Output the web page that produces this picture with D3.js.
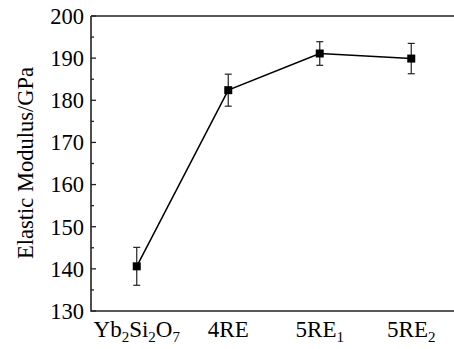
<!DOCTYPE html>
<html><head><meta charset="utf-8">
<script src="https://cdn.jsdelivr.net/npm/d3@7"></script>
<style>body{margin:0;background:#fff}svg{display:block}</style>
</head><body>
<script>
const categories = ["Yb2Si2O7", "4RE", "5RE1", "5RE2"];
const labelParts = [
  [["Yb",""],["2","sub"],["Si",""],["2","sub"],["O",""],["7","sub"]],
  [["4RE",""]],
  [["5RE",""],["1","sub"]],
  [["5RE",""],["2","sub"]]
];
const modulus = [140.6, 182.4, 191.1, 189.9];
const errors = [4.5, 3.8, 2.8, 3.6];
const yTicks = [130, 140, 150, 160, 170, 180, 190, 200];
const yTitle = "Elastic Modulus/GPa";

const W = 454, H = 349;
const m = {left: 91, top: 16, right: 457, bottom: 311};
const svg = d3.select("body").append("svg").attr("width", W).attr("height", H);
const font = "'Liberation Serif', 'Times New Roman', serif";

const x = d3.scalePoint().domain(categories).range([m.left, m.right]).padding(0.5);
const y = d3.scaleLinear().domain([130, 200]).range([m.bottom, m.top]);

// frame
svg.append("path")
  .attr("d", `M${m.left},${m.top}H${m.right+2}M${m.left},${m.top}V${m.bottom}H${m.right+2}`)
  .attr("fill", "none").attr("stroke", "#222").attr("stroke-width", 1.6);

// y axis ticks (inward) with minor ticks
const minor = d3.range(135, 200, 10);
svg.append("g").selectAll("line.maj").data(yTicks).join("line")
  .attr("x1", m.left).attr("x2", m.left + 5)
  .attr("y1", d => y(d)).attr("y2", d => y(d))
  .attr("stroke", "#222").attr("stroke-width", 1.3);
svg.append("g").selectAll("line.min").data(minor).join("line")
  .attr("x1", m.left).attr("x2", m.left + 3)
  .attr("y1", d => y(d)).attr("y2", d => y(d))
  .attr("stroke", "#222").attr("stroke-width", 1.3);
svg.append("g").selectAll("text").data(yTicks).join("text")
  .attr("x", m.left - 7).attr("y", d => y(d)).attr("dy", "0.35em")
  .attr("text-anchor", "end").attr("font-family", font).attr("font-size", 22.5)
  .attr("fill", "#000").text(d => d);

// y title
svg.append("text")
  .attr("transform", `translate(33,163) rotate(-90)`)
  .attr("text-anchor", "middle").attr("font-family", font).attr("font-size", 22.5)
  .attr("fill", "#000").text(yTitle);

// x labels
const xl = svg.append("g");
categories.forEach((c, i) => {
  const t = xl.append("text").attr("x", x(c)).attr("y", 337)
    .attr("text-anchor", "middle").attr("font-family", font).attr("font-size", 23).attr("fill", "#000");
  labelParts[i].forEach(([s, k], j) => {
    const ts = t.append("tspan").text(s);
    if (k === "sub") ts.attr("font-size", 15).attr("dy", 5);
    else if (j > 0) ts.attr("dy", -5);
  });
});

// line
const data = categories.map((c, i) => ({c, v: modulus[i], e: errors[i]}));
svg.append("path").datum(data)
  .attr("d", d3.line().x(d => x(d.c)).y(d => y(d.v)))
  .attr("fill", "none").attr("stroke", "#000").attr("stroke-width", 1.5);

// error bars
const eb = svg.append("g").attr("stroke", "#222").attr("stroke-width", 1.2);
data.forEach(d => {
  const cx = x(d.c);
  eb.append("line").attr("x1", cx).attr("x2", cx).attr("y1", y(d.v + d.e)).attr("y2", y(d.v - d.e));
  eb.append("line").attr("x1", cx - 3.5).attr("x2", cx + 3.5).attr("y1", y(d.v + d.e)).attr("y2", y(d.v + d.e));
  eb.append("line").attr("x1", cx - 3.5).attr("x2", cx + 3.5).attr("y1", y(d.v - d.e)).attr("y2", y(d.v - d.e));
});

// markers
svg.append("g").selectAll("rect").data(data).join("rect")
  .attr("x", d => x(d.c) - 4).attr("y", d => y(d.v) - 4)
  .attr("width", 8).attr("height", 8).attr("fill", "#000");
</script>
</body></html>
